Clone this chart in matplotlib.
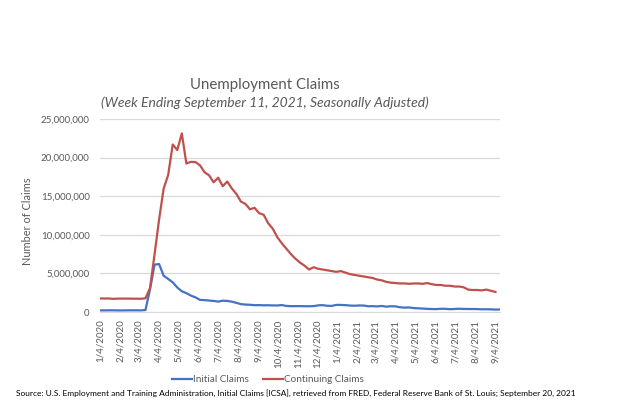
import numpy as np
import pandas as pd
import matplotlib
matplotlib.use("Agg")
import matplotlib.pyplot as plt
from matplotlib.ticker import FuncFormatter

# weekly data, week ending Saturday (thousands)
initial_claims = [
    212, 207, 220, 216, 203, 205, 214, 219, 216, 211, 256, 2920, 6137,
    6211, 4700, 4281, 3839, 3176, 2687, 2446, 2126, 1898, 1568, 1540, 1482,
    1435, 1345, 1466, 1437, 1338, 1186, 1018, 962, 936, 881, 893, 866, 873,
    849, 845, 898, 787, 758, 757, 762, 748, 746, 759, 862, 885, 806, 790,
    # 2021
    922, 914, 886, 836, 812, 848, 837, 745, 754, 725, 781, 691, 744, 728,
    612, 566, 590, 507, 478, 444, 405, 385, 375, 418, 415, 364, 386, 424,
    399, 387, 385, 377, 349, 354, 345, 312, 332,
]
continuing_claims = [
    1755, 1748, 1747, 1700, 1737, 1734, 1735, 1728, 1720, 1716, 1770, 3094,
    7446, 11976, 15979, 17756, 21701, 20979, 23131, 19232, 19451, 19418,
    19000, 18100, 17700, 16800, 17400, 16300, 16900, 16000, 15300, 14300,
    14000, 13300, 13500, 12800, 12600, 11500, 10800, 9700, 8900, 8200, 7500,
    6900, 6400, 6000, 5500, 5800, 5600, 5500, 5400, 5300,
    # 2021
    5200, 5300, 5100, 4900, 4800, 4700, 4600, 4500, 4400, 4200, 4100, 3900,
    3800, 3750, 3700, 3700, 3650, 3700, 3700, 3650, 3750, 3600, 3500, 3500,
    3400, 3400, 3300, 3300, 3200, 2900, 2850, 2850, 2800, 2900, 2750, 2600,
]
first_week = "2020-01-04"
last_week = "2021-09-11"

weeks = pd.date_range(first_week, last_week, freq="W-SAT")
init = np.array(initial_claims) * 1000
cont = np.array(continuing_claims) * 1000

grey = "#595959"
plt.rcParams["font.family"] = ["Lato", "DejaVu Sans"]

fig = plt.figure(figsize=(6.24, 4.2), dpi=100)
ax = fig.add_axes([100 / 624, 1 - 312 / 420, 400 / 624, 193 / 420])

ax.plot(weeks[:len(init)], init, color="#4472C4", lw=1.6, label="Initial Claims")
ax.plot(weeks[:len(cont)], cont, color="#C0504D", lw=1.6, label="Continuing Claims")

ax.set_ylim(0, 25000000)
ax.set_yticks(np.arange(0, 25000001, 5000000))
ax.yaxis.set_major_formatter(FuncFormatter(lambda v, p: f"{int(v):,}"))
ax.set_xlim(weeks[0], weeks[-1])
# axis labels on the 4th of each month
ticks = pd.date_range("2020-01-01", "2021-09-01", freq="MS") + pd.Timedelta(days=3)
ax.set_xticks(ticks)
ax.set_xticklabels([f"{d.month}/{d.day}/{d.year}" for d in ticks], rotation=90)

ax.grid(axis="y", color="#D9D9D9", lw=0.9)
ax.set_axisbelow(True)
for s in ["top", "right", "left"]:
    ax.spines[s].set_visible(False)
ax.spines["bottom"].set_color("#D9D9D9")
ax.tick_params(axis="both", length=0, labelsize=7, labelcolor=grey)
ax.tick_params(axis="y", pad=7.5)
ax.tick_params(axis="x", pad=5.5)

fig.text(28 / 624, 1 - 221 / 420, "Number of Claims", rotation=90,
         ha="center", va="center", fontsize=7.9, color=grey)
fig.text(265 / 624, 1 - 85 / 420, "Unemployment Claims", ha="center",
         va="center", fontsize=10.85, color=grey)
fig.text(265 / 624, 1 - 103 / 420,
         "(Week Ending September 11, 2021, Seasonally Adjusted)",
         ha="center", va="center", fontsize=10, style="italic", color=grey)

fig.legend(loc="center", bbox_to_anchor=(268 / 624, 1 - 380 / 420), ncol=2,
           frameon=False, fontsize=7.2, handlelength=2.0, handletextpad=0.15,
           columnspacing=1.4, labelcolor=grey)
fig.text(16 / 624, 1 - 393 / 420,
         "Source: U.S. Employment and Training Administration, Initial Claims [ICSA], "
         "retrieved from FRED, Federal Reserve Bank of St. Louis; September 20, 2021",
         ha="left", va="center", fontsize=6.0, color="black")

fig.savefig("out.png", dpi=100)
